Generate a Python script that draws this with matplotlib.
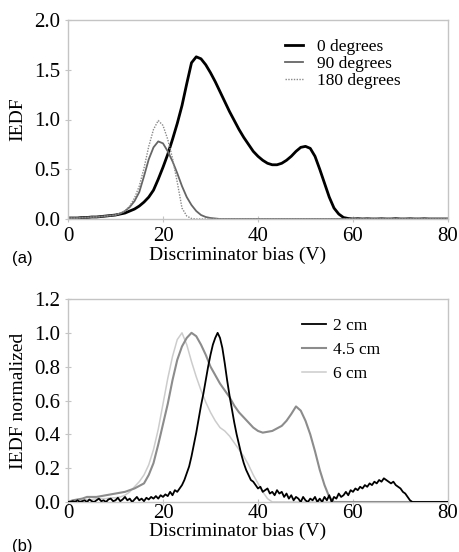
import numpy as np
import matplotlib
matplotlib.use("Agg")
import matplotlib.pyplot as plt

plt.rcParams['font.family'] = ['Liberation Serif', 'DejaVu Serif']

# (a) IEDF for three probe angles, 1 V steps
bias_a = np.arange(0, 81, 1)
deg0 = [0.01, 0.01, 0.01, 0.015, 0.015, 0.02, 0.02, 0.025, 0.03, 0.035,
        0.04, 0.05, 0.06, 0.08, 0.10, 0.13, 0.17, 0.22, 0.29, 0.40,
        0.52, 0.65, 0.80, 0.96, 1.14, 1.36, 1.57, 1.63, 1.61, 1.55,
        1.47, 1.38, 1.28, 1.18, 1.08, 0.99, 0.90, 0.82, 0.75, 0.68,
        0.63, 0.59, 0.56, 0.545, 0.545, 0.56, 0.59, 0.63, 0.68, 0.72,
        0.73, 0.71, 0.63, 0.50, 0.36, 0.22, 0.11, 0.05, 0.015, 0.005,
        0.0, 0.003, 0.0, 0.002, 0.0, 0.0, 0.002, 0.0, 0.0, 0.003,
        0.0, 0.0, 0.002, 0.0, 0.0, 0.002, 0.0, 0.0, 0.0, 0.0, 0.0]
deg90 = [0.01, 0.01, 0.01, 0.015, 0.015, 0.02, 0.02, 0.025, 0.03, 0.035,
         0.04, 0.055, 0.08, 0.12, 0.18, 0.27, 0.43, 0.60, 0.72, 0.78,
         0.76, 0.68, 0.58, 0.46, 0.33, 0.22, 0.14, 0.08, 0.04, 0.02,
         0.01, 0.005] + [0.0] * 49
deg180 = [0.01, 0.01, 0.01, 0.015, 0.015, 0.02, 0.02, 0.025, 0.03, 0.035,
          0.04, 0.06, 0.08, 0.13, 0.21, 0.33, 0.51, 0.73, 0.90, 0.99,
          0.94, 0.80, 0.61, 0.37, 0.11, 0.03, 0.005] + [0.0] * 54

# (b) normalized IEDF at three distances
bias_b = np.arange(0, 81, 1)
cm45 = [0.0, 0.01, 0.015, 0.02, 0.03, 0.03, 0.03, 0.035, 0.04, 0.045,
        0.05, 0.055, 0.06, 0.07, 0.08, 0.095, 0.11, 0.16, 0.23, 0.34,
        0.46, 0.58, 0.72, 0.84, 0.92, 0.97, 1.0, 0.98, 0.93, 0.87,
        0.80, 0.75, 0.70, 0.66, 0.62, 0.57, 0.53, 0.50, 0.47, 0.44,
        0.42, 0.41, 0.415, 0.42, 0.435, 0.45, 0.48, 0.52, 0.565, 0.54,
        0.48, 0.40, 0.30, 0.19, 0.10, 0.03, 0.0] + [0.0] * 24
cm6 = [0.0, 0.005, 0.01, 0.01, 0.015, 0.015, 0.02, 0.02, 0.02, 0.025,
       0.025, 0.03, 0.04, 0.06, 0.09, 0.12, 0.16, 0.22, 0.31, 0.43,
       0.58, 0.73, 0.86, 0.96, 1.0, 0.93, 0.83, 0.74, 0.66, 0.59,
       0.53, 0.48, 0.44, 0.42, 0.39, 0.35, 0.31, 0.27, 0.22, 0.16,
       0.11, 0.06, 0.02, 0.0] + [0.0] * 37

# 2 cm trace is noisy, 0.5 V steps
bias_2cm = np.arange(0, 80.5, 0.5)
cm2 = ([0, 0, 0.005, 0, 0.01, 0, 0.005, 0.01, 0, 0.015,
        0.005, 0, 0.01, 0.02, 0.005, 0.01, 0, 0.015, 0.02, 0.005]
       + [0.01, 0.025, 0.005, 0.015, 0.03, 0.01, 0.02, 0.0, 0.015, 0.03,
          0.01, 0.02, 0.005, 0.025, 0.015, 0.03, 0.02, 0.035, 0.02, 0.04]
       + [0.03, 0.045, 0.035, 0.06, 0.04, 0.07, 0.06, 0.08, 0.10, 0.13,
          0.17, 0.21, 0.27, 0.34, 0.41, 0.49, 0.57, 0.64, 0.72, 0.80]
       + [0.87, 0.93, 0.97, 1.0, 0.97, 0.91, 0.82, 0.72, 0.63, 0.55,
          0.47, 0.40, 0.34, 0.28, 0.23, 0.19, 0.16, 0.13, 0.12, 0.10]
       + [0.08, 0.09, 0.06, 0.07, 0.08, 0.05, 0.06, 0.04, 0.07, 0.05,
          0.06, 0.03, 0.05, 0.02, 0.04, 0.01, 0.03, 0.02, 0.0, 0.03]
       + [0.01, 0.0, 0.02, 0.01, 0.03, 0.0, 0.02, 0.0, 0.03, 0.01,
          0.04, 0.0, 0.03, 0.02, 0.05, 0.03, 0.04, 0.06, 0.04, 0.07]
       + [0.06, 0.08, 0.07, 0.09, 0.08, 0.10, 0.09, 0.11, 0.10, 0.12,
          0.11, 0.13, 0.12, 0.14, 0.13, 0.12, 0.11, 0.12, 0.10, 0.09]
       + [0.08, 0.06, 0.05, 0.03, 0.01, 0.0] + [0.0] * 15)
assert len(cm2) == len(bias_2cm)

fig = plt.figure(figsize=(4.6, 5.52), dpi=100)
ax1 = fig.add_axes([68/460, 1-219/552, 380/460, 199/552])
ax2 = fig.add_axes([68/460, 1-502/552, 380/460, 203/552])

ax1.plot(bias_a, deg0, color='black', lw=2.0, label='0 degrees')
ax1.plot(bias_a, deg90, color='#666666', lw=1.3, label='90 degrees')
ax1.plot(bias_a, deg180, color='#888888', lw=1.0, ls=(0, (1, 1)), label='180 degrees')

ax2.plot(bias_b, cm6, color='#cccccc', lw=1.1, label='6 cm', zorder=2)
ax2.plot(bias_b, cm45, color='#8c8c8c', lw=1.5, label='4.5 cm', zorder=3)
ax2.plot(bias_2cm, cm2, color='black', lw=1.3, label='2 cm', zorder=4)

for ax, ymax, step in [(ax1, 2.0, 0.5), (ax2, 1.2, 0.2)]:
    ax.set_xlim(0, 80)
    ax.set_ylim(0, ymax)
    ax.set_xticks([0, 20, 40, 60, 80])
    ax.set_yticks(np.arange(0, ymax + 0.01, step))
    ax.yaxis.set_major_formatter(matplotlib.ticker.FormatStrFormatter('%.1f'))
    for s in ax.spines.values():
        s.set_color('#c4c4c4')
        s.set_linewidth(1.0)
    ax.tick_params(direction='inout', length=5, width=0.8, color='#c4c4c4',
                   labelsize=15)
    ax.tick_params(axis='y', pad=3)
    ax.set_xlabel('Discriminator bias (V)', fontsize=14)
    ax.xaxis.label.set_va('center')

ax1.tick_params(axis='x', pad=3)
ax2.tick_params(axis='x', pad=-1)
ax1.xaxis.set_label_coords(0.447, -36/199)
ax2.xaxis.set_label_coords(0.447, -29/203)

ax1.set_ylabel('IEDF', fontsize=14, va='center')
ax2.set_ylabel('IEDF normalized', fontsize=14, va='center')
ax1.yaxis.set_label_coords(-50/380, 0.5)
ax2.yaxis.set_label_coords(-50/380, 0.5)

ax1.legend(loc='upper left', bbox_to_anchor=(0.549, 0.95), frameon=False,
           fontsize=12.5, handlelength=1.0, handletextpad=0.8,
           labelspacing=0.05, borderpad=0)
h, l = ax2.get_legend_handles_labels()
ax2.legend(h[::-1], l[::-1], loc='upper left', bbox_to_anchor=(0.593, 0.95),
           frameon=False, fontsize=12.5, handlelength=1.4, handletextpad=0.4,
           labelspacing=0.45, borderpad=0)

fig.text(22/460, 1-258/552, '(a)', family='Liberation Sans', fontsize=12,
         ha='center', va='center')
fig.text(22/460, 1-546/552, '(b)', family='Liberation Sans', fontsize=12,
         ha='center', va='center')

fig.savefig('out.png', dpi=100)
